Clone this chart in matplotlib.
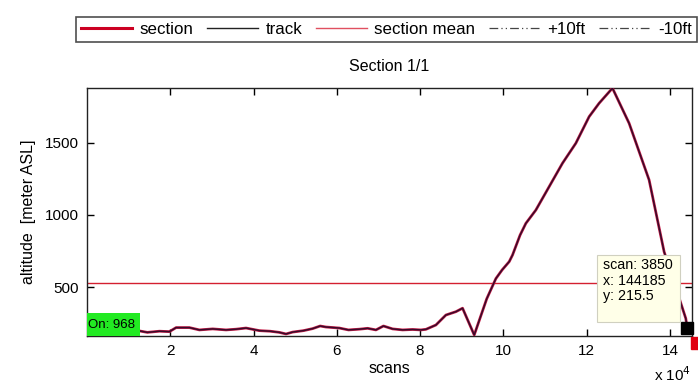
import matplotlib
matplotlib.use("Agg")
import matplotlib.pyplot as plt
from matplotlib.lines import Line2D
from matplotlib.patches import Rectangle
import numpy as np

plt.rcParams['font.family'] = ['Liberation Sans', 'DejaVu Sans']

# --- data (scan position, altitude in m ASL) ---
scan_x = [12600, 14500, 17400, 19800, 21400, 24600, 27000, 30200, 33400, 35800,
          38200, 41400, 44000, 46200, 47800, 49400, 52000, 54200, 56000, 57400,
          60600, 62800, 65400, 67400, 69400, 71200, 73400, 75800, 78200, 80200,
          81400, 83800, 86200, 88600, 90200, 93000, 96000, 98200, 99700, 101400,
          102200, 104000, 105400, 107800, 111000, 114200, 117400, 120600, 123000,
          126200, 130200, 135000, 138600, 143800, 144185]
altitude = [198, 188, 196, 193, 221, 221, 205, 212, 205, 210,
            218, 200, 196, 188, 177, 190, 200, 214, 232, 225,
            218, 205, 210, 216, 205, 232, 212, 205, 208, 205,
            209, 239, 308, 331, 355, 170, 420, 560, 620, 677,
            723, 860, 942, 1034, 1196, 1358, 1496, 1680, 1773,
            1877, 1634, 1242, 746, 285, 215.5]
section_mean = 530
x_limits = (0, 145300)
y_limits = (163, 1878)
x_ticks = [20000, 40000, 60000, 80000, 100000, 120000, 140000]
x_tick_labels = ['2', '4', '6', '8', '10', '12', '14']
y_ticks = [500, 1000, 1500]
tip_scan, tip_x, tip_y = 3850, 144185, 215.5
legend_labels = ['section', 'track', 'section mean', '+10ft', '-10ft']

fig = plt.figure(figsize=(6.98, 3.91), dpi=100)
ax = fig.add_axes([0.1246, 0.1407, 0.8668, 0.6342])

ax.axhline(section_mean, color='#d42030', lw=1.0, zorder=2)
ax.plot(scan_x, altitude, color='#c8204a', lw=2.0, zorder=3, solid_joinstyle='round')
ax.plot(scan_x, altitude, color='#380a2a', lw=1.1, zorder=4, solid_joinstyle='round')

ax.set_xlim(*x_limits)
ax.set_ylim(*y_limits)
ax.set_xticks(x_ticks)
ax.set_xticklabels(x_tick_labels)
ax.set_yticks(y_ticks)
ax.tick_params(direction='in', top=True, right=True, length=5, width=1,
               labelsize=11, pad=6)
for s in ax.spines.values():
    s.set_linewidth(1.0)
    s.set_color('#222222')

ax.set_title('Section 1/1', fontsize=11.5, pad=12)
ax.set_xlabel('scans', fontsize=11.5, labelpad=2)
ax.set_ylabel('altitude  [meter ASL]', fontsize=11.5, labelpad=6)

fig.text(0.937, 0.018, r'x 10$^{4}$', fontsize=11, ha='left', va='bottom')

# green label
ax.add_patch(Rectangle((0, 0), 0.088, 0.092, transform=ax.transAxes,
                       fc='#22ea22', ec='none', zorder=6, clip_on=False))
ax.text(0.002, 0.046, 'On: 968', transform=ax.transAxes, fontsize=9.5,
        ha='left', va='center', zorder=7)

# data tip
ax.plot([tip_x], [tip_y], marker='s', ms=8.5, color='black', zorder=7, clip_on=False)
ax.plot([x_limits[1] + 1200], [y_limits[0] - 48], marker='s', ms=8.5, color='#e00010',
        zorder=7, clip_on=False)
ax.add_patch(Rectangle((0.843, 0.057), 0.137, 0.27, transform=ax.transAxes,
                       fc='#ffffe8', ec='#d0d0c0', lw=0.8, zorder=8))
ax.text(0.853, 0.314, f'scan: {tip_scan}\nx: {tip_x}\ny: {tip_y}', fontsize=10.3,
        transform=ax.transAxes, ha='left', va='top', linespacing=1.13, zorder=9)

handles = [
    Line2D([], [], color='#cc0022', lw=2.2),
    Line2D([], [], color='#222222', lw=1.0),
    Line2D([], [], color='#e05060', lw=1.0),
    Line2D([], [], color='#444444', lw=0.9, linestyle=(0, (7, 2.5, 1, 2.5, 1, 2.5))),
    Line2D([], [], color='#444444', lw=0.9, linestyle=(0, (7, 2.5, 1, 2.5, 1, 2.5))),
]
leg = fig.legend(handles, legend_labels, loc='lower left', ncol=5,
                 bbox_to_anchor=(0.109, 0.893, 0.889, 0.083), mode='expand',
                 fontsize=12.2, frameon=True, fancybox=False, borderaxespad=0,
                 handlelength=3.0, handletextpad=0.45, columnspacing=0.5,
                 borderpad=0.3)
leg.get_frame().set_edgecolor('#222222')
leg.get_frame().set_linewidth(1.2)

fig.savefig('out.png', dpi=100)
